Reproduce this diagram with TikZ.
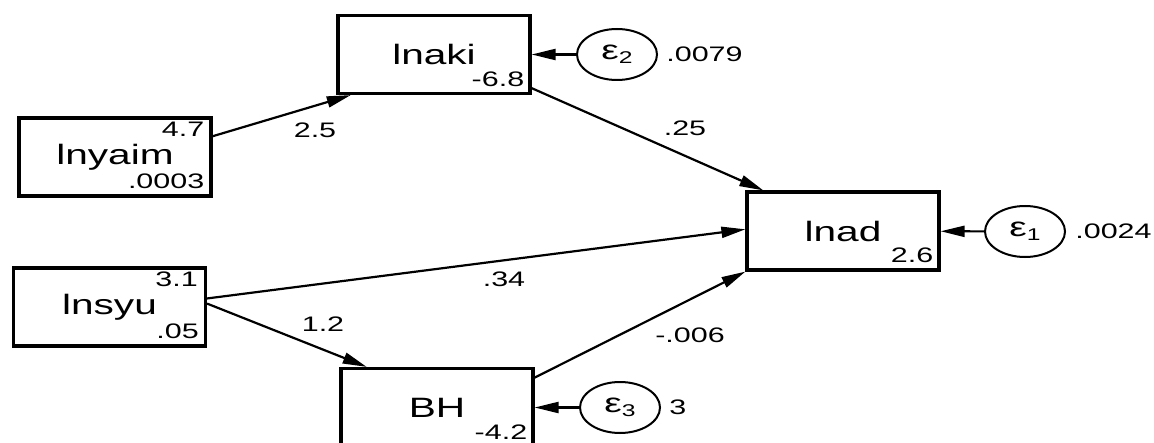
\documentclass[tikz,border=0pt]{standalone}
\usepackage{fontspec}
\setmainfont{Liberation Sans}[FakeStretch=1.45]
\usetikzlibrary{arrows.meta,positioning,shapes.geometric}

\begin{document}
\begin{tikzpicture}[x=0.5pt,y=-0.5pt,
    var/.style={draw,line width=1.6pt,minimum width=96pt,minimum height=39pt,inner sep=0pt,font=\fontsize{14}{16}\selectfont},
    err/.style={draw,ellipse,line width=1pt,minimum width=40pt,minimum height=25.5pt,inner sep=0pt,font=\fontsize{13.5}{15}\selectfont},
    coef/.style={inner sep=0pt,font=\fontsize{10.5}{12}\selectfont},
    link/.style={line width=1.1pt,-{Triangle[length=12pt,width=5.5pt]}}]
    \useasboundingbox (0,0) rectangle (1154,443);
    \node[var] (lnaki) at (434,54.5) {lnaki};
    \node[var] (lnyaim) at (115,157) {lnyaim};
    \node[var] (lnsyu) at (109.5,307) {lnsyu};
    \node[var] (bh) at (437,407.5) {BH};
    \node[var] (lnad) at (843,231) {lnad};
    \node[coef,anchor=base east] (lnakimean) at ([xshift=-3.5pt,yshift=4.5pt]lnaki.south east) {-6.8};
    \node[coef,anchor=north east] (lnyaimmean) at ([xshift=-4pt,yshift=-2.5pt]lnyaim.north east) {4.7};
    \node[coef,anchor=base east] (lnyaimvar) at ([xshift=-4pt,yshift=4.75pt]lnyaim.south east) {.0003};
    \node[coef,anchor=north east] (lnsyumean) at ([xshift=-4.5pt,yshift=-2.5pt]lnsyu.north east) {3.1};
    \node[coef,anchor=base east] (lnsyuvar) at ([xshift=-4pt,yshift=4.75pt]lnsyu.south east) {.05};
    \node[coef,anchor=base east] (bhmean) at ([xshift=-3.5pt,yshift=4.5pt]bh.south east) {-4.2};
    \node[coef,anchor=base east] (lnadmean) at ([xshift=-3.5pt,yshift=4.75pt]lnad.south east) {2.6};
    \node[err] (e2) at (617,54.5) {ε\raisebox{-2pt}{\fontsize{8.5}{9}\selectfont 2}};
    \node[err] (e1) at (1025,231.5) {ε\raisebox{-2pt}{\fontsize{8.5}{9}\selectfont 1}};
    \node[err] (e3) at (620,407.5) {ε\raisebox{-2pt}{\fontsize{8.5}{9}\selectfont 3}};
    \node[coef,right=4pt of e2] (e2var) {.0079};
    \node[coef,right=4.5pt of e1] (e1var) {.0024};
    \node[coef,right=4pt of e3] (e3var) {3};
    \draw[link] (lnyaim.12) -- (lnaki.206);
    \draw[link] (lnaki.341) -- (lnad.153);
    \draw[link] (lnsyu.5) -- (lnad.179);
    \draw[link] (lnsyu.2) -- (bh.150);
    \draw[link] (bh.17) -- (lnad.south west);
    \draw[link] (e2) -- (lnaki);
    \draw[link] (e1) -- (lnad);
    \draw[link] (e3) -- (bh);
    \node[coef] (w1) at (315,130) {2.5};
    \node[coef] (w2) at (685,128) {.25};
    \node[coef] (w3) at (504,279) {.34};
    \node[coef] (w4) at (323,324) {1.2};
    \node[coef] (w5) at (690,335) {-.006};
\end{tikzpicture}
\end{document}
